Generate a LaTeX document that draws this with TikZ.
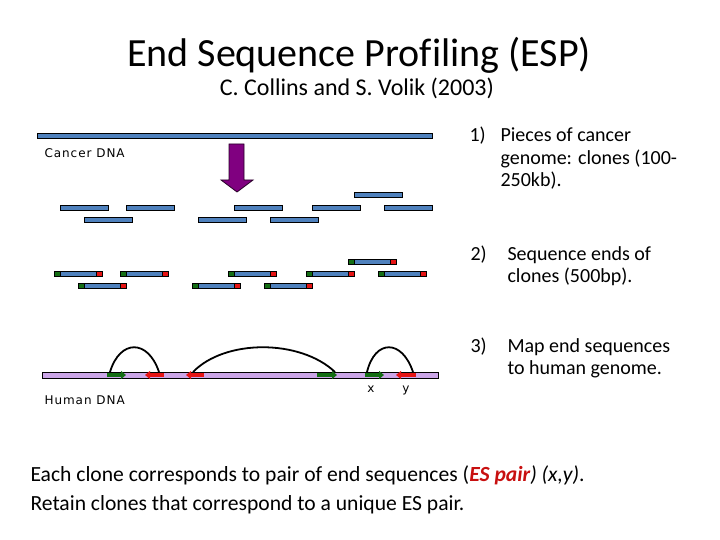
\documentclass[tikz,border=0pt]{standalone}
\usepackage{fontspec}
\setmainfont{Carlito}[Ligatures=NoCommon]
\newfontfamily\labelfont[LetterSpace=8]{DejaVu Sans}
\definecolor{clonebl}{RGB}{79,129,189}
\definecolor{cutpurple}{RGB}{128,0,128}
\definecolor{humanlav}{RGB}{204,166,232}
\definecolor{endgreen}{RGB}{20,110,20}
\definecolor{endred}{RGB}{230,20,20}
\definecolor{espred}{RGB}{200,16,16}
\usetikzlibrary{arrows.meta,positioning,calc}

\tikzset{
  clone/.style={draw=black, line width=0.8pt, fill=clonebl},
  fwdend/.style={endgreen, line width=3.5pt, -{Triangle[length=5pt,width=8pt]}},
  revend/.style={endred, line width=3.5pt, -{Triangle[length=5pt,width=8pt]}},
  pairarc/.style={draw=black, line width=1.8pt},
  dnalabel/.style={font=\labelfont\fontsize{12}{14}\selectfont, anchor=base west},
  steptext/.style={font=\fontsize{20}{22.5}\selectfont, anchor=base west},
  notetext/.style={font=\fontsize{21.6}{26}\selectfont, anchor=base west}
}

\begin{document}
\begin{tikzpicture}[x=1pt, y=-1pt]
  \useasboundingbox (0,0) rectangle (720,540);

  \node[font=\fontsize{40}{48}\selectfont, anchor=base, inner sep=0pt] (title) at (359,67) {End Sequence Profiling (ESP)};
  \node[font=\fontsize{24}{29}\selectfont, anchor=base, inner sep=0pt] (authors) at (357,96) {C. Collins and S. Volik (2003)};

  % cancer genome cut into clones
  \draw[clone] (37,133) rectangle (432,138);
  \node[dnalabel] (cancerlbl) at (41,158) {Cancer DNA};
  \filldraw[fill=cutpurple, draw=black!70!cutpurple, line width=0.8pt]
    (229,144) -- (244,144) -- (244,180) -- (253,180) -- (237,192) -- (221,180) -- (229,180) -- cycle;
  \foreach \cx/\cy in {354/192, 60/205, 126/205, 234/205, 312/205, 384/205, 84/217, 198/217, 270/217}
    \draw[clone] (\cx,\cy) rectangle ++(48,5);

  % sequenced ends
  \foreach \cx/\cy in {348/259, 54/271, 120/271, 228/271, 306/271, 378/271, 78/283, 192/283, 264/283} {
    \draw[clone, fill=endgreen] (\cx,\cy) rectangle ++(6,5);
    \draw[clone] (\cx+6,\cy) rectangle ++(36,5);
    \draw[clone, fill=endred] (\cx+42,\cy) rectangle ++(6,5);
  }

  % mapped to the human genome
  \draw[draw=black, line width=0.8pt, fill=humanlav] (42,372) rectangle (438,378);
  \node[dnalabel] (humanlbl) at (41,404) {Human DNA};
  \coordinate (g1) at (110,372);
  \coordinate (r1) at (159,372);
  \coordinate (r2) at (193,372);
  \coordinate (g2) at (335,372);
  \coordinate (g3) at (367,372);
  \coordinate (r3) at (413,372);
  \draw[pairarc] (g1) .. controls (120,339) and (148,339) .. (r1);
  \draw[pairarc] (r2) .. controls (225,339) and (300,339) .. (g2);
  \draw[pairarc] (g3) .. controls (375,339) and (402,339) .. (r3);
  \draw[fwdend] (107,375) -- (126,375);
  \draw[revend] (164,375) -- (145,375);
  \draw[revend] (204,375) -- (186,375);
  \draw[fwdend] (317,375) -- (337,375);
  \draw[fwdend] (365,375) -- (384,375);
  \draw[revend] (416,375) -- (396,375);
  \node[font=\labelfont\fontsize{12}{14}\selectfont, anchor=base] (xlbl) at (371,392) {x};
  \node[font=\labelfont\fontsize{12}{14}\selectfont, anchor=base] (ylbl) at (406,392) {y};

  \node[steptext] (num1) at (466,142) {1)};
  \node[steptext] (step1) at (497,142) {\begin{tabular}[t]{@{}l@{}}Pieces of cancer\\genome: clones (100-\\250kb).\end{tabular}};
  \node[steptext] (num2) at (467,260) {2)};
  \node[steptext] (step2) at (504,260) {\begin{tabular}[t]{@{}l@{}}Sequence ends of\\clones (500bp).\end{tabular}};
  \node[steptext] (num3) at (467,352) {3)};
  \node[steptext] (step3) at (504,352) {\begin{tabular}[t]{@{}l@{}}Map end sequences\\to human genome.\end{tabular}};

  \node[notetext] (note1) at (27,481) {Each clone corresponds to pair of end sequences (\textcolor{espred}{\bfseries\itshape ES pair}\textit{) (x,y)}.};
  \node[notetext] (note2) at (27,510) {Retain clones that correspond to a unique ES pair.};
\end{tikzpicture}
\end{document}
